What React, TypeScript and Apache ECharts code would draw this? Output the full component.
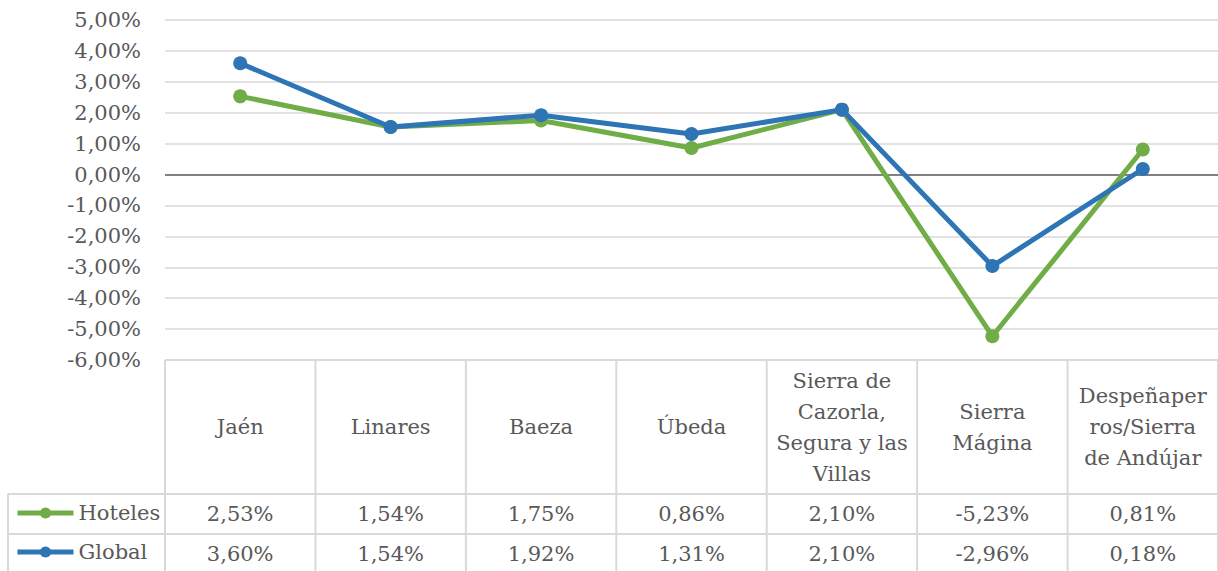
import React, { useEffect, useRef } from "react";
import * as echarts from "echarts";

const categories = [
  "Jaén",
  "Linares",
  "Baeza",
  "Úbeda",
  "Sierra de Cazorla, Segura y las Villas",
  "Sierra Mágina",
  "Despeñaperros/Sierra de Andújar",
];
const headerLabels = [
  "Jaén",
  "Linares",
  "Baeza",
  "Úbeda",
  "Sierra de\nCazorla,\nSegura y las\nVillas",
  "Sierra\nMágina",
  "Despeñaper\nros/Sierra\nde Andújar",
];
const hoteles = [2.53, 1.54, 1.75, 0.86, 2.1, -5.23, 0.81];
const global = [3.6, 1.54, 1.92, 1.31, 2.1, -2.96, 0.18];
const seriesNames = ["Hoteles", "Global"];
const yMin = -6;
const yMax = 5;
const yInterval = 1;

const FONT = "DejaVu Serif";
const FS = 21;
const TEXT = "#595959";
const GRID_C = "#d9d9d9";
const GREEN = "#70AD47";
const BLUE = "#2E75B6";

const fmt = (v: number) => v.toFixed(2).replace(".", ",") + "%";

export default function App() {
  const ref = useRef<HTMLDivElement>(null);
  useEffect(() => {
    document.body.style.margin = "0";
    const chart = echarts.init(ref.current!, null, { renderer: "svg" });
    const GRID_LEFT = 165;
    const GRID_TOP = 20;
    const GRID_H = 340;
    const GRID_W = 1056;
    const font = { fontFamily: FONT, fontSize: FS, color: TEXT };
    chart.setOption({
      animation: false,
      textStyle: { fontFamily: FONT },
      grid: { left: GRID_LEFT, top: GRID_TOP, width: GRID_W, height: GRID_H },
      legend: {
        data: seriesNames,
        orient: "vertical",
        left: 15,
        top: 501,
        padding: 0,
        itemWidth: 56,
        itemHeight: 14,
        itemGap: 15,
        lineStyle: { width: 5 },
        textStyle: { ...font, lineHeight: 24 },
      },
      xAxis: {
        type: "category",
        data: categories,
        boundaryGap: true,
        axisLine: { show: false },
        axisTick: { show: false },
        splitLine: { show: false },
        axisLabel: {
          ...font,
          interval: 0,
          margin: 67,
          verticalAlign: "middle",
          lineHeight: 31,
          formatter: (_v: string, i: number) => headerLabels[i],
        },
      },
      yAxis: {
        type: "value",
        min: yMin,
        max: yMax,
        interval: yInterval,
        axisLine: { show: false },
        axisTick: { show: false },
        splitLine: { lineStyle: { color: GRID_C, width: 1.5 } },
        axisLabel: {
          ...font,
          margin: 24,
          formatter: (v: number) => fmt(v),
        },
      },
      series: [
        {
          name: seriesNames[0],
          type: "line",
          data: hoteles,
          symbol: "circle",
          symbolSize: 14,
          color: GREEN,
          lineStyle: { width: 5, color: GREEN },
          itemStyle: { color: GREEN },
          z: 3,
          markLine: {
            silent: true,
            symbol: "none",
            label: { show: false },
            lineStyle: { color: "#808080", width: 2, type: "solid" },
            data: [{ yAxis: 0 }],
            z: 1,
          },
        },
        {
          name: seriesNames[1],
          type: "line",
          data: global,
          symbol: "circle",
          symbolSize: 14,
          color: BLUE,
          lineStyle: { width: 5, color: BLUE },
          itemStyle: { color: BLUE },
          z: 4,
        },
      ],
    });

    const xs = categories.map((_, i) => chart.convertToPixel({ xAxisIndex: 0 }, i) as number);
    const colW = xs.length > 1 ? xs[1] - xs[0] : 150;
    const tableTop = GRID_TOP + GRID_H;
    const row1 = 494;
    const row2 = 534;
    const bottom = 575;
    const right = GRID_LEFT + GRID_W;
    const lineStyle = { stroke: GRID_C, lineWidth: 2 };
    const elems: any[] = [];
    elems.push({ type: "line", shape: { x1: GRID_LEFT, y1: tableTop, x2: right, y2: tableTop }, style: lineStyle, silent: true });
    elems.push({ type: "line", shape: { x1: 8, y1: row1, x2: right, y2: row1 }, style: lineStyle, silent: true });
    elems.push({ type: "line", shape: { x1: 8, y1: row2, x2: right, y2: row2 }, style: lineStyle, silent: true });
    elems.push({ type: "line", shape: { x1: 8, y1: row1, x2: 8, y2: bottom }, style: lineStyle, silent: true });
    for (let i = 0; i <= categories.length; i++) {
      const x = xs[0] - colW / 2 + i * colW;
      elems.push({ type: "line", shape: { x1: x, y1: tableTop, x2: x, y2: bottom }, style: lineStyle, silent: true });
    }
    [hoteles, global].forEach((arr, r) => {
      const cy = r === 0 ? (row1 + row2) / 2 : row2 + 20;
      arr.forEach((v, i) => {
        elems.push({
          type: "text",
          x: xs[i],
          y: cy,
          style: {
            text: fmt(v),
            fontSize: FS,
            fontFamily: FONT,
            fill: TEXT,
            align: "center",
            verticalAlign: "middle",
          },
          silent: true,
        });
      });
    });
    chart.setOption({ graphic: { elements: elems } });
    return () => chart.dispose();
  }, []);
  return <div ref={ref} style={{ width: 1218, height: 571 }} />;
}
